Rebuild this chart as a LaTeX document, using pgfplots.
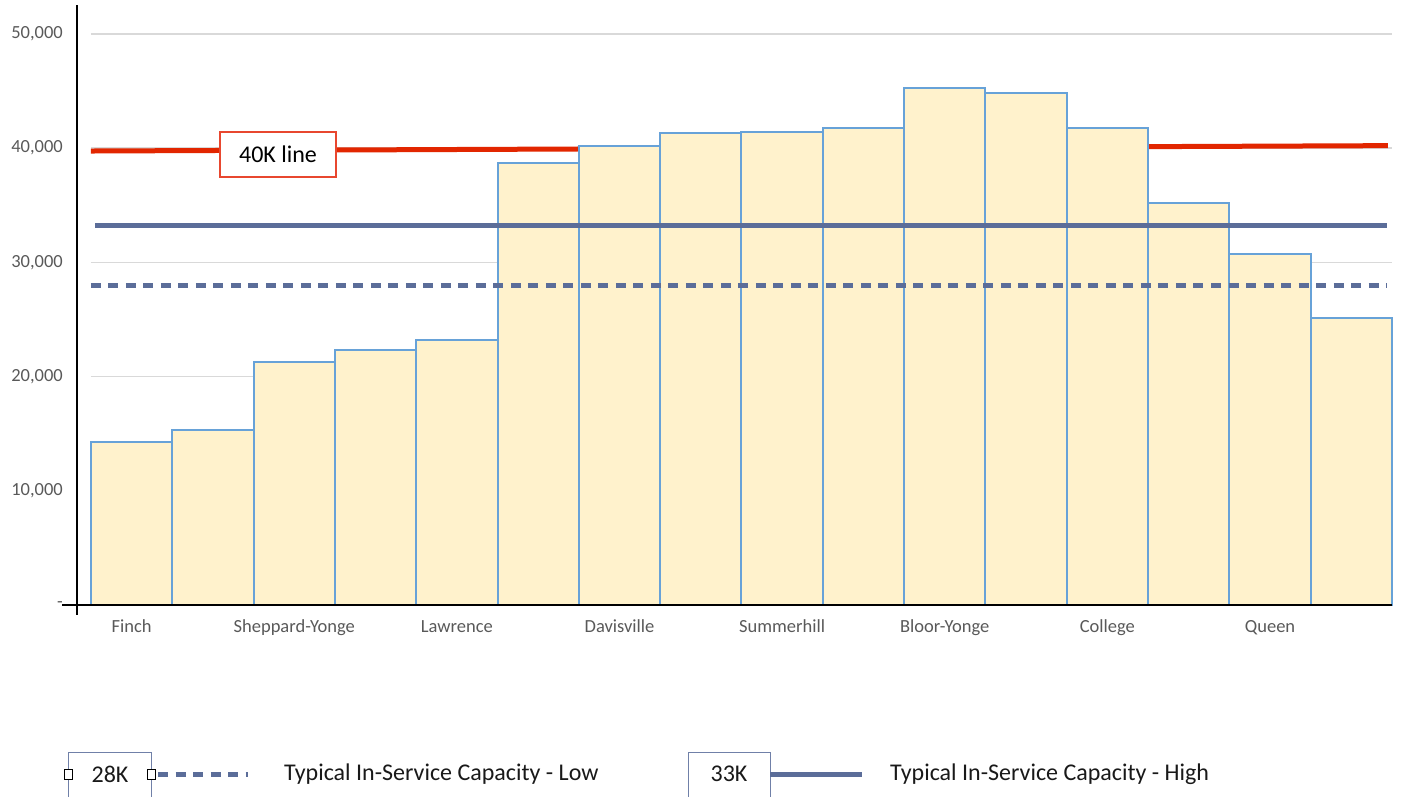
\documentclass[border=0pt]{standalone}
\usepackage{pgfplots}
\pgfplotsset{compat=1.18}
\usepackage{fontspec}
\setmainfont{Carlito}
\definecolor{barfill}{HTML}{FFF2CC}
\definecolor{baredge}{HTML}{67A2D8}
\definecolor{redline}{RGB}{226,38,0}
\definecolor{slate}{RGB}{91,109,153}
\definecolor{gridc}{HTML}{D9D9D9}
\definecolor{tickc}{HTML}{595959}
\definecolor{boxred}{HTML}{E8472F}
\definecolor{boxblue}{HTML}{7080A8}
\begin{document}
\begin{tikzpicture}
\useasboundingbox (0,0) rectangle (1411pt,796pt);
\begin{axis}[
  at={(77pt,191pt)}, anchor=south west,
  scale only axis, width=1315pt, height=599.6pt,
  xmin=-0.672, xmax=15.5, ymin=0, ymax=52500,
  axis line style={draw=none},
  major tick length=0pt,
  tick style={draw=none},
  clip=false,
  scaled y ticks=false,
  ytick={0,10000,20000,30000,40000,50000},
  yticklabels={-\hspace{4pt},10{,}000,20{,}000,30{,}000,40{,}000,50{,}000},
  xtick={0,2,4,6,8,10,12,14},
  xticklabels={Finch,Sheppard-Yonge,Lawrence,Davisville,Summerhill,Bloor-Yonge,College,Queen},
  ticklabel style={font=\fontsize{18.5}{20}\selectfont, text=tickc},
  yticklabel style={anchor=east, inner sep=0pt, xshift=-14pt},
  xticklabel style={anchor=base, inner sep=0pt, yshift=-27pt},
]
% gridlines
\addplot[gridc, line width=1.5pt, forget plot] coordinates {(-0.5,10000) (15.5,10000)};
\addplot[gridc, line width=1.5pt, forget plot] coordinates {(-0.5,20000) (15.5,20000)};
\addplot[gridc, line width=1.5pt, forget plot] coordinates {(-0.5,30000) (15.5,30000)};
\addplot[gridc, line width=1.5pt, forget plot] coordinates {(-0.5,40000) (15.5,40000)};
\addplot[gridc, line width=1.5pt, forget plot] coordinates {(-0.5,50000) (15.5,50000)};
% 40K line (behind bars)
\addplot[redline, line width=5pt] coordinates {(-0.5,39750) (15.45,40220)};
% bars
\addplot[ybar, bar width=1, bar shift=0pt, fill=barfill, draw=baredge, line width=2pt] coordinates {
(0,14250) (1,15320) (2,21250) (3,22330) (4,23230) (5,38680) (6,40220) (7,41300)
(8,41440) (9,41770) (10,45240) (11,44810) (12,41770) (13,35200) (14,30740) (15,25130)};
% capacity lines
\addplot[slate, line width=5pt, dash pattern=on 10pt off 7.5pt] coordinates {(-0.5,28000) (15.44,28000)};
\addplot[slate, line width=5pt] coordinates {(-0.45,33200) (15.44,33200)};
% 40K label
\node[draw=boxred, line width=1.5pt, fill=white, minimum width=116pt, minimum height=45pt,
      font=\fontsize{24}{28}\selectfont, inner sep=0pt] at (axis cs:1.80,39450) {40K line};
% axis lines
\draw[black, line width=1.5pt] (axis cs:-0.672,52500) -- (axis cs:-0.672,-876);
\draw[black, line width=1.5pt] (axis cs:-0.856,0) -- (axis cs:15.5,0);
\end{axis}
% legend
\draw[boxblue, line width=1pt] (68pt,-5pt) -- (68pt,44pt) -- (151pt,44pt) -- (151pt,-5pt);
\node[font=\fontsize{24}{28}\selectfont, text=black!90, inner sep=0pt] at (110pt,22pt) {28K};
\draw[black, fill=white, line width=1pt] (64pt,17pt) rectangle (72pt,27pt);
\draw[black, fill=white, line width=1pt] (147pt,17pt) rectangle (155pt,27pt);
\draw[slate, line width=5pt, dash pattern=on 10pt off 7.5pt] (158pt,22pt) -- (248pt,22pt);
\node[anchor=west, inner sep=0pt, font=\fontsize{24}{28}\selectfont, text=black!90] at (284pt,22pt) {Typical In-Service Capacity - Low};
\draw[boxblue, line width=1pt] (688pt,-5pt) -- (688pt,44pt) -- (770pt,44pt) -- (770pt,-5pt);
\node[font=\fontsize{24}{28}\selectfont, text=black!90, inner sep=0pt] at (729pt,22pt) {33K};
\draw[slate, line width=5pt] (770pt,22pt) -- (862pt,22pt);
\node[anchor=west, inner sep=0pt, font=\fontsize{24}{28}\selectfont, text=black!90] at (890pt,22pt) {Typical In-Service Capacity - High};
\end{tikzpicture}
\end{document}
